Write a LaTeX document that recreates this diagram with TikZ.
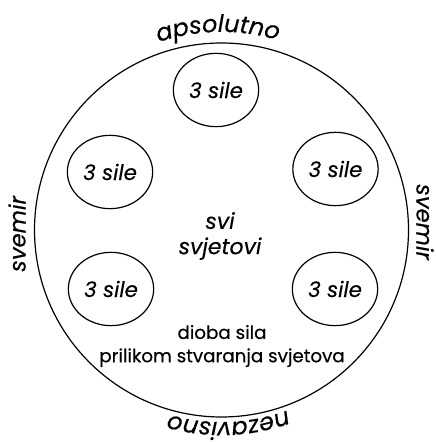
\documentclass[tikz,border=0pt]{standalone}
\usepackage{fontspec}
\setmainfont{Poppins}[FakeBold=0.3]
\usepackage{tikz}
\usetikzlibrary{shapes.geometric, decorations.text, calc}
\newcommand{\arcfont}{\fontsize{18}{20}\selectfont\itshape}
\tikzset{
    sila/.style={draw, ellipse, line width=0.9pt, minimum width=64pt, minimum height=55pt, inner sep=0pt, font=\fontsize{16}{18}\selectfont\itshape},
    centre/.style={align=center, font=\fontsize{16.5}{19}\selectfont\itshape},
    note/.style={align=center, font=\fontsize{13.7}{17.5}\selectfont},
    side/.style={font=\fontsize{17}{20}\selectfont\itshape, inner sep=0pt},
}

\begin{document}
\begin{tikzpicture}[x=0.75pt, y=0.75pt]
    \useasboundingbox (0,0) rectangle (435,442);
    \coordinate (c) at (221.5,212);
    \draw[line width=0.9pt] (c) circle (187);

    % five groups of forces
    \node[sila] (top) at (216,352) {3 sile};
    \node[sila] (lu) at (110,270) {3 sile};
    \node[sila] (ru) at (335.5,273) {3 sile};
    \node[sila] (ll) at (111,153) {3 sile};
    \node[sila] (rl) at (335,153) {3 sile};

    \node[centre] (svi) at (220,206) {svi\\svjetovi};
    \node[note] (dioba) at (222,96) {dioba sila\\prilikom stvaranja svjetova};

    % labels round the circle
    \path[decorate, decoration={text along path, text align=center, text={|\arcfont|apsolutno}}]
        ($(c)+(161:198)$) arc[start angle=161, end angle=21, radius=198];
    \path[decorate, decoration={text along path, text align=center, text={|\arcfont|nezavisno}}]
        ($(c)+(-18:192)$) arc[start angle=-18, end angle=-158, radius=192];
    \node[side, rotate=90] (lsvemir) at (17,208) {svemir};
    \node[side, rotate=-90] (rsvemir) at (425,220) {svemir};
\end{tikzpicture}
\end{document}
